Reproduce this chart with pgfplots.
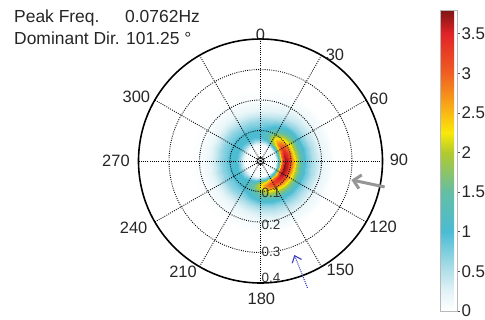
\documentclass[border=0pt]{standalone}
\usepackage{fontspec}
\setmainfont{Liberation Sans}
\usepackage{pgfplots}
\usepackage{pgfplotstable}
\pgfplotsset{compat=1.18}
\usetikzlibrary{arrows.meta}
\pgfplotsset{
 /pgf/number format/assume math mode=true,
 colormap={wave}{rgb255(0cm)=(255,255,255); rgb255(0.25cm)=(226,243,247); rgb255(0.5cm)=(180,224,234); rgb255(1cm)=(75,188,212); rgb255(1.5cm)=(100,190,165); rgb255(2cm)=(178,202,45); rgb255(2.25cm)=(250,232,10); rgb255(2.5cm)=(250,185,20); rgb255(3cm)=(240,95,35); rgb255(3.5cm)=(225,35,40); rgb255(3.8cm)=(125,20,20)}
}
\definecolor{arrgray}{RGB}{150,150,150}
\definecolor{arrblue}{RGB}{60,60,190}
\tikzset{griddot/.style={line width=0.9bp, dash pattern=on 0.9bp off 1.3bp, black}}
% direction t (deg, clockwise from north), frequency r (Hz), spectral density v
\pgfplotstableread[row sep=\\]{
t r v\\
0 0 0\\0 0.05 0.05\\0 0.06 0.35\\0 0.07 0.75\\0 0.08 1.0\\0 0.09 1.05\\0 0.1 1.0\\0 0.115 0.8\\0 0.13 0.65\\0 0.15 0.38\\0 0.17 0.18\\0 0.2 0.05\\0 0.24 0\\
15 0 0\\15 0.05 0.06\\15 0.06 0.44\\15 0.07 0.98\\15 0.08 1.28\\15 0.09 1.31\\15 0.1 1.2\\15 0.115 0.94\\15 0.13 0.74\\15 0.15 0.43\\15 0.17 0.22\\15 0.2 0.07\\15 0.24 0\\
30 0 0\\30 0.05 0.07\\30 0.06 0.69\\30 0.07 1.65\\30 0.08 2.12\\30 0.09 2.07\\30 0.1 1.8\\30 0.115 1.36\\30 0.13 0.99\\30 0.15 0.58\\30 0.17 0.33\\30 0.2 0.12\\30 0.24 0.01\\
45 0 0\\45 0.05 0.08\\45 0.06 0.9\\45 0.07 2.21\\45 0.08 2.82\\45 0.09 2.71\\45 0.1 2.3\\45 0.115 1.71\\45 0.13 1.2\\45 0.15 0.71\\45 0.17 0.43\\45 0.2 0.16\\45 0.24 0.01\\
60 0 0\\60 0.05 0.09\\60 0.06 1.05\\60 0.07 2.6\\60 0.08 3.3\\60 0.09 3.14\\60 0.1 2.64\\60 0.115 1.95\\60 0.13 1.35\\60 0.15 0.79\\60 0.17 0.49\\60 0.2 0.19\\60 0.24 0.02\\
75 0 0\\75 0.05 0.1\\75 0.06 1.14\\75 0.07 2.84\\75 0.08 3.6\\75 0.09 3.42\\75 0.1 2.86\\75 0.115 2.1\\75 0.13 1.44\\75 0.15 0.85\\75 0.17 0.53\\75 0.2 0.21\\75 0.24 0.02\\
90 0 0\\90 0.05 0.1\\90 0.06 1.18\\90 0.07 2.96\\90 0.08 3.74\\90 0.09 3.55\\90 0.1 2.96\\90 0.115 2.17\\90 0.13 1.48\\90 0.15 0.87\\90 0.17 0.55\\90 0.2 0.22\\90 0.24 0.02\\
105 0 0\\105 0.05 0.1\\105 0.06 1.2\\105 0.07 3.0\\105 0.08 3.8\\105 0.09 3.6\\105 0.1 3.0\\105 0.115 2.2\\105 0.13 1.5\\105 0.15 0.88\\105 0.17 0.56\\105 0.2 0.22\\105 0.24 0.02\\
120 0 0\\120 0.05 0.1\\120 0.06 1.18\\120 0.07 2.96\\120 0.08 3.74\\120 0.09 3.55\\120 0.1 2.96\\120 0.115 2.17\\120 0.13 1.48\\120 0.15 0.87\\120 0.17 0.55\\120 0.2 0.22\\120 0.24 0.02\\
135 0 0\\135 0.05 0.1\\135 0.06 1.12\\135 0.07 2.78\\135 0.08 3.52\\135 0.09 3.35\\135 0.1 2.8\\135 0.115 2.06\\135 0.13 1.42\\135 0.15 0.83\\135 0.17 0.52\\135 0.2 0.2\\135 0.24 0.02\\
150 0 0\\150 0.05 0.09\\150 0.06 1.05\\150 0.07 2.6\\150 0.08 3.3\\150 0.09 3.14\\150 0.1 2.64\\150 0.115 1.95\\150 0.13 1.35\\150 0.15 0.79\\150 0.17 0.49\\150 0.2 0.19\\150 0.24 0.02\\
165 0 0\\165 0.05 0.08\\165 0.06 0.93\\165 0.07 2.28\\165 0.08 2.9\\165 0.09 2.78\\165 0.1 2.36\\165 0.115 1.75\\165 0.13 1.23\\165 0.15 0.72\\165 0.17 0.44\\165 0.2 0.17\\165 0.24 0.01\\
180 0 0\\180 0.05 0.07\\180 0.06 0.74\\180 0.07 1.79\\180 0.08 2.29\\180 0.09 2.22\\180 0.1 1.92\\180 0.115 1.44\\180 0.13 1.04\\180 0.15 0.61\\180 0.17 0.36\\180 0.2 0.13\\180 0.24 0.01\\
195 0 0\\195 0.05 0.06\\195 0.06 0.52\\195 0.07 1.2\\195 0.08 1.56\\195 0.09 1.56\\195 0.1 1.4\\195 0.115 1.08\\195 0.13 0.82\\195 0.15 0.48\\195 0.17 0.26\\195 0.2 0.08\\195 0.24 0\\
210 0 0\\210 0.05 0.05\\210 0.06 0.39\\210 0.07 0.86\\210 0.08 1.14\\210 0.09 1.18\\210 0.1 1.1\\210 0.115 0.87\\210 0.13 0.69\\210 0.15 0.41\\210 0.17 0.2\\210 0.2 0.06\\210 0.24 0\\
225 0 0\\225 0.05 0.05\\225 0.06 0.35\\225 0.07 0.75\\225 0.08 1.0\\225 0.09 1.05\\225 0.1 1.0\\225 0.115 0.8\\225 0.13 0.65\\225 0.15 0.38\\225 0.17 0.18\\225 0.2 0.05\\225 0.24 0\\
240 0 0\\240 0.05 0.05\\240 0.06 0.35\\240 0.07 0.75\\240 0.08 1.0\\240 0.09 1.05\\240 0.1 1.0\\240 0.115 0.8\\240 0.13 0.65\\240 0.15 0.38\\240 0.17 0.18\\240 0.2 0.05\\240 0.24 0\\
255 0 0\\255 0.05 0.05\\255 0.06 0.35\\255 0.07 0.75\\255 0.08 1.0\\255 0.09 1.05\\255 0.1 1.0\\255 0.115 0.8\\255 0.13 0.65\\255 0.15 0.38\\255 0.17 0.18\\255 0.2 0.05\\255 0.24 0\\
270 0 0\\270 0.05 0.05\\270 0.06 0.35\\270 0.07 0.75\\270 0.08 1.0\\270 0.09 1.05\\270 0.1 1.0\\270 0.115 0.8\\270 0.13 0.65\\270 0.15 0.38\\270 0.17 0.18\\270 0.2 0.05\\270 0.24 0\\
285 0 0\\285 0.05 0.05\\285 0.06 0.35\\285 0.07 0.75\\285 0.08 1.0\\285 0.09 1.05\\285 0.1 1.0\\285 0.115 0.8\\285 0.13 0.65\\285 0.15 0.38\\285 0.17 0.18\\285 0.2 0.05\\285 0.24 0\\
300 0 0\\300 0.05 0.05\\300 0.06 0.35\\300 0.07 0.75\\300 0.08 1.0\\300 0.09 1.05\\300 0.1 1.0\\300 0.115 0.8\\300 0.13 0.65\\300 0.15 0.38\\300 0.17 0.18\\300 0.2 0.05\\300 0.24 0\\
315 0 0\\315 0.05 0.05\\315 0.06 0.35\\315 0.07 0.75\\315 0.08 1.0\\315 0.09 1.05\\315 0.1 1.0\\315 0.115 0.8\\315 0.13 0.65\\315 0.15 0.38\\315 0.17 0.18\\315 0.2 0.05\\315 0.24 0\\
330 0 0\\330 0.05 0.05\\330 0.06 0.35\\330 0.07 0.75\\330 0.08 1.0\\330 0.09 1.05\\330 0.1 1.0\\330 0.115 0.8\\330 0.13 0.65\\330 0.15 0.38\\330 0.17 0.18\\330 0.2 0.05\\330 0.24 0\\
345 0 0\\345 0.05 0.05\\345 0.06 0.35\\345 0.07 0.75\\345 0.08 1.0\\345 0.09 1.05\\345 0.1 1.0\\345 0.115 0.8\\345 0.13 0.65\\345 0.15 0.38\\345 0.17 0.18\\345 0.2 0.05\\345 0.24 0\\
360 0 0\\360 0.05 0.05\\360 0.06 0.35\\360 0.07 0.75\\360 0.08 1.0\\360 0.09 1.05\\360 0.1 1.0\\360 0.115 0.8\\360 0.13 0.65\\360 0.15 0.38\\360 0.17 0.18\\360 0.2 0.05\\360 0.24 0\\
}\spec
\begin{document}
\begin{tikzpicture}
\useasboundingbox (0,0) rectangle (485bp,320bp);
\begin{axis}[
 at={(260.5bp,159bp)}, anchor=center,
 scale only axis, width=244bp, height=244bp,
 xmin=-0.4, xmax=0.4, ymin=-0.4, ymax=0.4,
 axis lines=none, clip=false,
 colormap name=wave, point meta min=0, point meta max=3.8,
 colorbar,
 colorbar style={
   at={(parent axis.south east)}, anchor=south west,
   xshift=49bp, yshift=-28bp,
   scale only axis, width=17bp, height=301bp,
   axis lines=box,
   axis line style={draw=black!28},
   ytick={0,0.5,1,1.5,2,2.5,3,3.5},
   ytick pos=right, yticklabel pos=right,
   tick align=outside, major tick length=2.5bp,
   ytick style={black!70, line width=0.6bp},
   yticklabel style={font=\fontsize{17}{17}\selectfont, text=black!85, xshift=-1.5bp},
 },
]
\addplot[surf, shader=interp, mesh/cols=13, point meta=explicit]
  table[x expr={\thisrow{r}*sin(\thisrow{t})}, y expr={\thisrow{r}*cos(\thisrow{t})}, meta=v] {\spec};
% polar grid
\pgfplotsinvokeforeach{0.1,0.2,0.3}{\draw[griddot] (axis cs:0,0) circle[radius=#1];}
\pgfplotsinvokeforeach{0,30,...,330}{\draw[griddot] (axis cs:0,0) -- (axis cs:{0.4*sin(#1)},{0.4*cos(#1)});}
\draw[black, line width=1.6bp] (axis cs:0,0) circle[radius=0.4];
\draw[black, line width=0.7bp] (axis cs:0,0) circle[radius=0.012];
\fill[black] (axis cs:0,0) circle[radius=0.004];
% angle labels
\begin{scope}[every node/.style={font=\fontsize{16.5}{17}\selectfont, text=black!85, inner sep=0}]
\node at (axis cs:0,0.413) {0};
\node at (axis cs:0.244,0.348) {30};
\node at (axis cs:0.388,0.203) {60};
\node at (axis cs:0.454,0.003) {90};
\node at (axis cs:0.402,-0.215) {120};
\node at (axis cs:0.262,-0.357) {150};
\node at (axis cs:0.003,-0.451) {180};
\node at (axis cs:-0.254,-0.362) {210};
\node at (axis cs:-0.416,-0.218) {240};
\node at (axis cs:-0.474,0) {270};
\node at (axis cs:-0.407,0.210) {300};
\end{scope}
\begin{scope}[every node/.style={font=\fontsize{13.5}{13.5}\selectfont, text=black!80, inner sep=0, anchor=west}]
\node at (axis cs:0.003,-0.105) {0.1};
\node at (axis cs:0.003,-0.21) {0.2};
\node at (axis cs:0.003,-0.298) {0.3};
\node at (axis cs:0.003,-0.384) {0.4};
\end{scope}
% annotation arrows
\draw[arrgray, line width=3bp, -{Straight Barb[length=7bp,width=14bp]}] (axis cs:0.407,-0.085) -- (axis cs:0.298,-0.062);
\draw[arrblue, line width=1.1bp, dash pattern=on 1bp off 1.1bp, -{Straight Barb[length=6bp,width=10bp]}] (axis cs:0.154,-0.416) -- (axis cs:0.111,-0.308);
\end{axis}
\begin{scope}[every node/.style={font=\fontsize{17.5}{20}\selectfont, text=black!85, inner sep=0, anchor=base west}]
\node at (14bp,297.3bp) {Peak Freq.};
\node at (125bp,297.3bp) {0.0762Hz};
\node at (14bp,275bp) {Dominant Dir.};
\node at (126bp,275bp) {101.25 °};
\end{scope}
\end{tikzpicture}
\end{document}
